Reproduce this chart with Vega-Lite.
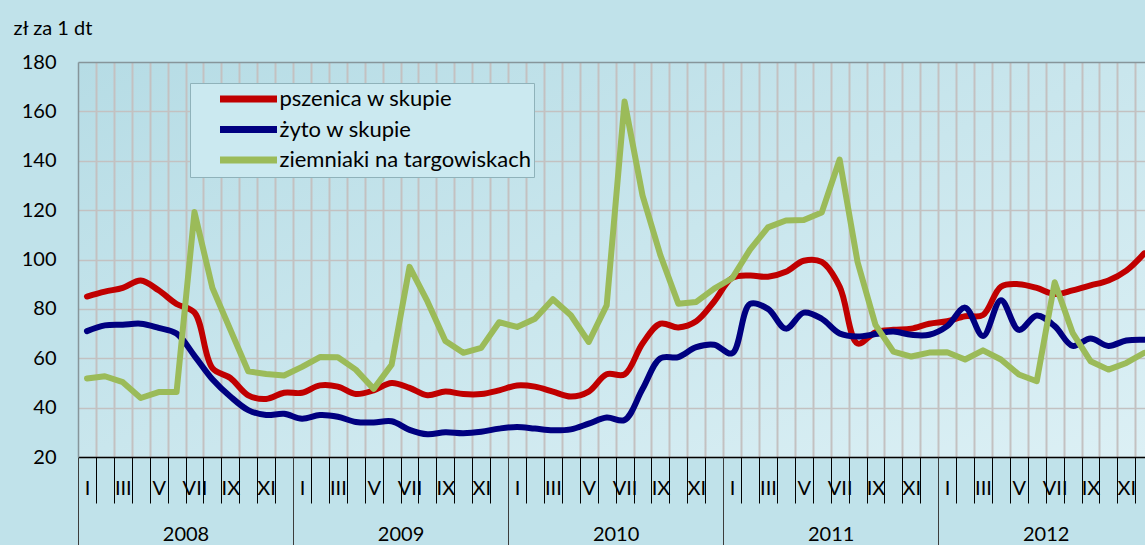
{
  "$schema": "https://vega.github.io/schema/vega-lite/v6.json",
  "width": 1067,
  "height": 395,
  "autosize": {"type": "none"},
  "padding": {"left": 78, "top": 62, "right": 0, "bottom": 88},
  "background": "#c0e2ea",
  "config": {
    "view": {"stroke": null, "fill": {"gradient": "linear", "x1": 0, "y1": 0, "x2": 1, "y2": 1, "stops": [{"offset": 0, "color": "#b6dce5"}, {"offset": 1, "color": "#dcf0f5"}]}},
    "font": "Lato",
    "axis": {"labelFont": "Lato", "labelFontSize": 20, "labelColor": "#000000"},
    "legend": {
      "orient": "none", "legendX": 112, "legendY": 21,
      "fillColor": "#cbe9f0", "strokeColor": "#8fb2ba", "padding": 3,
      "symbolType": "M-3,0H3", "symbolSize": 361, "symbolStrokeWidth": 7, "symbolOffset": 42.5,
      "labelFont": "Lato", "labelFontSize": 22, "labelColor": "#000000", "labelOffset": 18,
      "rowPadding": 2.5, "labelLimit": 400
    }
  },
  "datasets": {
    "d": [
      {"m":1,"s":"pszenica w skupie","v":85},{"m":2,"s":"pszenica w skupie","v":87},{"m":3,"s":"pszenica w skupie","v":88.5},{"m":4,"s":"pszenica w skupie","v":91.5},{"m":5,"s":"pszenica w skupie","v":87.5},{"m":6,"s":"pszenica w skupie","v":82},{"m":7,"s":"pszenica w skupie","v":78.5},{"m":8,"s":"pszenica w skupie","v":56},{"m":9,"s":"pszenica w skupie","v":52},{"m":10,"s":"pszenica w skupie","v":45},{"m":11,"s":"pszenica w skupie","v":43.5},{"m":12,"s":"pszenica w skupie","v":46},
      {"m":13,"s":"pszenica w skupie","v":46},{"m":14,"s":"pszenica w skupie","v":49},{"m":15,"s":"pszenica w skupie","v":48.5},{"m":16,"s":"pszenica w skupie","v":45.5},{"m":17,"s":"pszenica w skupie","v":47},{"m":18,"s":"pszenica w skupie","v":50},{"m":19,"s":"pszenica w skupie","v":48},{"m":20,"s":"pszenica w skupie","v":45},{"m":21,"s":"pszenica w skupie","v":46.5},{"m":22,"s":"pszenica w skupie","v":45.5},{"m":23,"s":"pszenica w skupie","v":45.5},{"m":24,"s":"pszenica w skupie","v":47},
      {"m":25,"s":"pszenica w skupie","v":49},{"m":26,"s":"pszenica w skupie","v":48.5},{"m":27,"s":"pszenica w skupie","v":46.5},{"m":28,"s":"pszenica w skupie","v":44.5},{"m":29,"s":"pszenica w skupie","v":46.5},{"m":30,"s":"pszenica w skupie","v":53.5},{"m":31,"s":"pszenica w skupie","v":53.5},{"m":32,"s":"pszenica w skupie","v":66},{"m":33,"s":"pszenica w skupie","v":74},{"m":34,"s":"pszenica w skupie","v":72.5},{"m":35,"s":"pszenica w skupie","v":75},{"m":36,"s":"pszenica w skupie","v":83},
      {"m":37,"s":"pszenica w skupie","v":92.5},{"m":38,"s":"pszenica w skupie","v":93.5},{"m":39,"s":"pszenica w skupie","v":93},{"m":40,"s":"pszenica w skupie","v":95},{"m":41,"s":"pszenica w skupie","v":99.5},{"m":42,"s":"pszenica w skupie","v":99},{"m":43,"s":"pszenica w skupie","v":89},{"m":44,"s":"pszenica w skupie","v":66},{"m":45,"s":"pszenica w skupie","v":70.5},{"m":46,"s":"pszenica w skupie","v":71.5},{"m":47,"s":"pszenica w skupie","v":72},{"m":48,"s":"pszenica w skupie","v":74},
      {"m":49,"s":"pszenica w skupie","v":75},{"m":50,"s":"pszenica w skupie","v":77},{"m":51,"s":"pszenica w skupie","v":77.5},{"m":52,"s":"pszenica w skupie","v":89},{"m":53,"s":"pszenica w skupie","v":90},{"m":54,"s":"pszenica w skupie","v":88.5},{"m":55,"s":"pszenica w skupie","v":86},{"m":56,"s":"pszenica w skupie","v":87.5},{"m":57,"s":"pszenica w skupie","v":89.5},{"m":58,"s":"pszenica w skupie","v":91.5},{"m":59,"s":"pszenica w skupie","v":95.5},{"m":60,"s":"pszenica w skupie","v":102.5},

      {"m":1,"s":"żyto w skupie","v":71},{"m":2,"s":"żyto w skupie","v":73.3},{"m":3,"s":"żyto w skupie","v":73.6},{"m":4,"s":"żyto w skupie","v":74},{"m":5,"s":"żyto w skupie","v":72.3},{"m":6,"s":"żyto w skupie","v":70},{"m":7,"s":"żyto w skupie","v":61},{"m":8,"s":"żyto w skupie","v":51.5},{"m":9,"s":"żyto w skupie","v":44.5},{"m":10,"s":"żyto w skupie","v":39},{"m":11,"s":"żyto w skupie","v":37},{"m":12,"s":"żyto w skupie","v":37.5},
      {"m":13,"s":"żyto w skupie","v":35.5},{"m":14,"s":"żyto w skupie","v":37},{"m":15,"s":"żyto w skupie","v":36.3},{"m":16,"s":"żyto w skupie","v":34.2},{"m":17,"s":"żyto w skupie","v":34},{"m":18,"s":"żyto w skupie","v":34.5},{"m":19,"s":"żyto w skupie","v":31},{"m":20,"s":"żyto w skupie","v":29.2},{"m":21,"s":"żyto w skupie","v":30},{"m":22,"s":"żyto w skupie","v":29.6},{"m":23,"s":"żyto w skupie","v":30.2},{"m":24,"s":"żyto w skupie","v":31.5},
      {"m":25,"s":"żyto w skupie","v":32.2},{"m":26,"s":"żyto w skupie","v":31.5},{"m":27,"s":"żyto w skupie","v":30.8},{"m":28,"s":"żyto w skupie","v":31.2},{"m":29,"s":"żyto w skupie","v":33.5},{"m":30,"s":"żyto w skupie","v":36},{"m":31,"s":"żyto w skupie","v":35},{"m":32,"s":"żyto w skupie","v":47.5},{"m":33,"s":"żyto w skupie","v":60},{"m":34,"s":"żyto w skupie","v":60.5},{"m":35,"s":"żyto w skupie","v":64.5},{"m":36,"s":"żyto w skupie","v":65.5},
      {"m":37,"s":"żyto w skupie","v":62},{"m":38,"s":"żyto w skupie","v":82},{"m":39,"s":"żyto w skupie","v":80},{"m":40,"s":"żyto w skupie","v":72},{"m":41,"s":"żyto w skupie","v":78.5},{"m":42,"s":"żyto w skupie","v":76},{"m":43,"s":"żyto w skupie","v":70},{"m":44,"s":"żyto w skupie","v":68.8},{"m":45,"s":"żyto w skupie","v":69.8},{"m":46,"s":"żyto w skupie","v":70.8},{"m":47,"s":"żyto w skupie","v":69.5},{"m":48,"s":"żyto w skupie","v":69.5},
      {"m":49,"s":"żyto w skupie","v":73},{"m":50,"s":"żyto w skupie","v":80.5},{"m":51,"s":"żyto w skupie","v":69},{"m":52,"s":"żyto w skupie","v":83.5},{"m":53,"s":"żyto w skupie","v":71.5},{"m":54,"s":"żyto w skupie","v":77.3},{"m":55,"s":"żyto w skupie","v":73},{"m":56,"s":"żyto w skupie","v":65},{"m":57,"s":"żyto w skupie","v":68},{"m":58,"s":"żyto w skupie","v":65},{"m":59,"s":"żyto w skupie","v":67.2},{"m":60,"s":"żyto w skupie","v":67.5},

      {"m":1,"s":"ziemniaki na targowiskach","v":51.8},{"m":2,"s":"ziemniaki na targowiskach","v":52.7},{"m":3,"s":"ziemniaki na targowiskach","v":50.3},{"m":4,"s":"ziemniaki na targowiskach","v":43.9},{"m":5,"s":"ziemniaki na targowiskach","v":46.3},{"m":6,"s":"ziemniaki na targowiskach","v":46.3},{"m":7,"s":"ziemniaki na targowiskach","v":119.2},{"m":8,"s":"ziemniaki na targowiskach","v":88.5},{"m":9,"s":"ziemniaki na targowiskach","v":71.6},{"m":10,"s":"ziemniaki na targowiskach","v":54.7},{"m":11,"s":"ziemniaki na targowiskach","v":53.6},{"m":12,"s":"ziemniaki na targowiskach","v":53},
      {"m":13,"s":"ziemniaki na targowiskach","v":56.5},{"m":14,"s":"ziemniaki na targowiskach","v":60.5},{"m":15,"s":"ziemniaki na targowiskach","v":60.4},{"m":16,"s":"ziemniaki na targowiskach","v":55.4},{"m":17,"s":"ziemniaki na targowiskach","v":47.6},{"m":18,"s":"ziemniaki na targowiskach","v":57.4},{"m":19,"s":"ziemniaki na targowiskach","v":97},{"m":20,"s":"ziemniaki na targowiskach","v":83},{"m":21,"s":"ziemniaki na targowiskach","v":67},{"m":22,"s":"ziemniaki na targowiskach","v":62.2},{"m":23,"s":"ziemniaki na targowiskach","v":64.2},{"m":24,"s":"ziemniaki na targowiskach","v":74.6},
      {"m":25,"s":"ziemniaki na targowiskach","v":72.7},{"m":26,"s":"ziemniaki na targowiskach","v":76},{"m":27,"s":"ziemniaki na targowiskach","v":83.9},{"m":28,"s":"ziemniaki na targowiskach","v":77.4},{"m":29,"s":"ziemniaki na targowiskach","v":66.6},{"m":30,"s":"ziemniaki na targowiskach","v":81.4},{"m":31,"s":"ziemniaki na targowiskach","v":164},{"m":32,"s":"ziemniaki na targowiskach","v":126},{"m":33,"s":"ziemniaki na targowiskach","v":101.7},{"m":34,"s":"ziemniaki na targowiskach","v":82.1},{"m":35,"s":"ziemniaki na targowiskach","v":82.8},{"m":36,"s":"ziemniaki na targowiskach","v":88.2},
      {"m":37,"s":"ziemniaki na targowiskach","v":92.4},{"m":38,"s":"ziemniaki na targowiskach","v":104},{"m":39,"s":"ziemniaki na targowiskach","v":113},{"m":40,"s":"ziemniaki na targowiskach","v":115.8},{"m":41,"s":"ziemniaki na targowiskach","v":116},{"m":42,"s":"ziemniaki na targowiskach","v":119},{"m":43,"s":"ziemniaki na targowiskach","v":140.5},{"m":44,"s":"ziemniaki na targowiskach","v":99},{"m":45,"s":"ziemniaki na targowiskach","v":73.5},{"m":46,"s":"ziemniaki na targowiskach","v":62.7},{"m":47,"s":"ziemniaki na targowiskach","v":60.7},{"m":48,"s":"ziemniaki na targowiskach","v":62.3},
      {"m":49,"s":"ziemniaki na targowiskach","v":62.4},{"m":50,"s":"ziemniaki na targowiskach","v":59.5},{"m":51,"s":"ziemniaki na targowiskach","v":63.2},{"m":52,"s":"ziemniaki na targowiskach","v":59.5},{"m":53,"s":"ziemniaki na targowiskach","v":53.4},{"m":54,"s":"ziemniaki na targowiskach","v":50.7},{"m":55,"s":"ziemniaki na targowiskach","v":90.8},{"m":56,"s":"ziemniaki na targowiskach","v":70.3},{"m":57,"s":"ziemniaki na targowiskach","v":58.8},{"m":58,"s":"ziemniaki na targowiskach","v":55.4},{"m":59,"s":"ziemniaki na targowiskach","v":58.1},{"m":60,"s":"ziemniaki na targowiskach","v":62.2}
    ]
  },
  "data": {"name": "d"},
  "encoding": {
    "y": {"field": "v", "type": "quantitative", "scale": {"domain": [20, 180], "nice": false, "zero": false},
      "axis": {"values": [20,40,60,80,100,120,140,160,180], "grid": true,
        "gridColor": {"condition": {"test": "datum.value === 180", "value": "#86959a"}, "value": "#c3c1c1"},
        "gridWidth": 1.5, "ticks": false, "labelPadding": 22, "domainColor": "#86959a", "domainWidth": 1.5,
        "title": "zł za 1 dt", "titleAngle": 0, "titleX": -65, "titleY": -34, "titleAlign": "left", "titleBaseline": "middle",
        "titleFont": "Lato", "titleFontSize": 20, "titleFontWeight": "normal", "titleColor": "#000000"}}
  },
  "layer": [
    {
      "transform": [{"filter": "datum.s !== 'ziemniaki na targowiskach'"}],
      "mark": {"type": "line", "interpolate": "catmull-rom", "strokeWidth": 6, "strokeCap": "round", "strokeJoin": "round", "clip": true},
      "encoding": {
        "x": {"field": "m", "type": "quantitative", "scale": {"domain": [0.5, 60.04], "nice": false, "zero": false},
          "axis": {"orient": "bottom", "title": null, "values": [1.5,2.5,3.5,4.5,5.5,6.5,7.5,8.5,9.5,10.5,11.5,12.5,13.5,14.5,15.5,16.5,17.5,18.5,19.5,20.5,21.5,22.5,23.5,24.5,25.5,26.5,27.5,28.5,29.5,30.5,31.5,32.5,33.5,34.5,35.5,36.5,37.5,38.5,39.5,40.5,41.5,42.5,43.5,44.5,45.5,46.5,47.5,48.5,49.5,50.5,51.5,52.5,53.5,54.5,55.5,56.5,57.5,58.5,59.5],
            "grid": true, "gridColor": "#c3c1c1", "gridWidth": 2, "ticks": true, "tickSize": 46, "tickColor": "#000000", "tickWidth": 1, "labels": false, "domain": true, "domainColor": "#000000", "domainWidth": 1.5}},
        "color": {"field": "s", "type": "nominal",
          "scale": {"domain": ["pszenica w skupie", "żyto w skupie", "ziemniaki na targowiskach"], "range": ["#c00000", "#000080", "#9bbb59"]},
          "legend": {"title": null}}
      }
    },
    {
      "transform": [{"filter": "datum.s === 'ziemniaki na targowiskach'"}],
      "mark": {"type": "line", "strokeWidth": 6, "strokeCap": "round", "strokeJoin": "round", "clip": true},
      "encoding": {
        "x": {"field": "m", "type": "quantitative",
          "axis": {"orient": "bottom", "title": null, "values": [1,3,5,7,9,11,13,15,17,19,21,23,25,27,29,31,33,35,37,39,41,43,45,47,49,51,53,55,57,59],
            "labelExpr": "['I','II','III','IV','V','VI','VII','VIII','IX','X','XI','XII'][(datum.value - 1) % 12]",
            "grid": false, "ticks": false, "tickSize": 0, "domain": false, "labelPadding": 31, "labelBaseline": "middle", "labelAlign": "center"}},
        "color": {"field": "s", "type": "nominal", "legend": {"title": null}}
      }
    },
    {
      "mark": {"type": "line", "opacity": 0},
      "encoding": {
        "x": {"field": "m", "type": "quantitative",
          "axis": {"orient": "bottom", "title": null, "values": [0.5, 12.5, 24.5, 36.5, 48.5],
            "grid": false, "ticks": true, "tickSize": 90, "tickColor": "#3c3c3c", "tickWidth": 1, "labels": false, "domain": false}},
        "detail": {"field": "s"}
      }
    },
    {
      "mark": {"type": "line", "opacity": 0},
      "encoding": {
        "x": {"field": "m", "type": "quantitative",
          "axis": {"orient": "bottom", "title": null, "values": [6.5, 18.5, 30.5, 42.5, 54.5],
            "labelExpr": "'' + (2008 + floor(datum.value / 12))",
            "grid": false, "ticks": false, "tickSize": 0, "domain": false, "labelPadding": 77, "labelBaseline": "middle", "labelAlign": "center"}},
        "detail": {"field": "s"}
      }
    }
  ],
  "resolve": {"scale": {"x": "shared", "y": "shared", "color": "shared"}, "axis": {"x": "independent"}}
}
